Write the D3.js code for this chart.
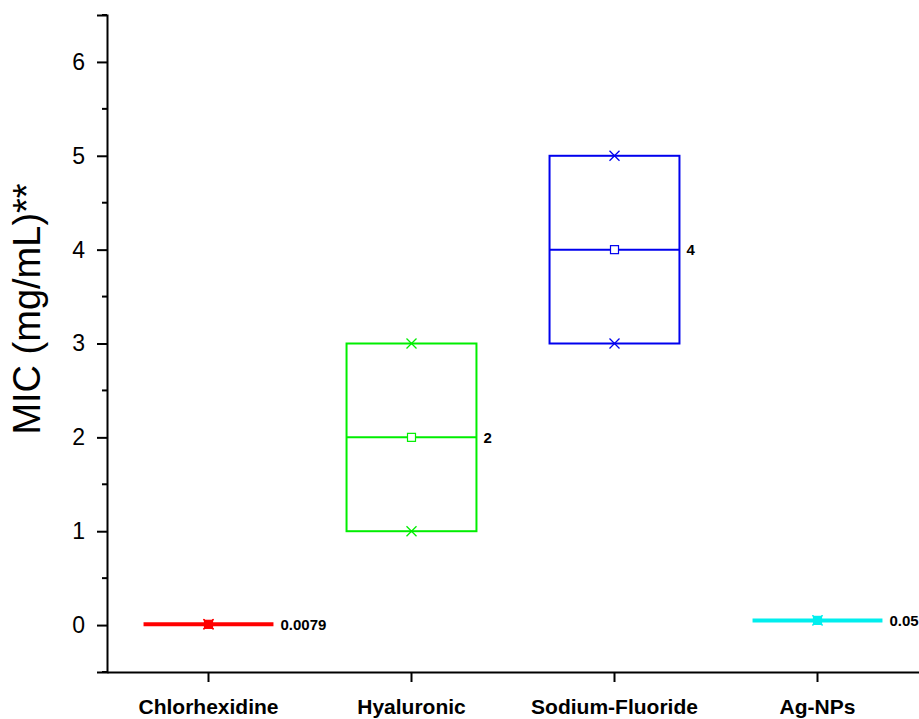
<!DOCTYPE html>
<html>
<head>
<meta charset="utf-8">
<script src="https://cdn.jsdelivr.net/npm/d3@7/dist/d3.min.js"></script>
<style>
body{margin:0;background:#fff;}
svg{display:block;font-family:"Liberation Sans",Arial,sans-serif;}
</style>
</head>
<body>
<svg id="chart" width="919" height="719"></svg>
<script>
const categories = ["Chlorhexidine", "Hyaluronic", "Sodium-Fluoride", "Ag-NPs"];
const minValues = [0.0079, 1, 3, 0.05];
const boxLow = [0.0079, 1, 3, 0.05];
const medianValues = [0.0079, 2, 4, 0.05];
const boxHigh = [0.0079, 3, 5, 0.05];
const maxValues = [0.0079, 3, 5, 0.05];
const valueLabels = ["0.0079", "2", "4", "0.05"];
const colors = ["#ff0000", "#00ee00", "#0000ee", "#00eeee"];
const yTicks = [0, 1, 2, 3, 4, 5, 6];
const yTitle = "MIC (mg/mL)**";

const svg = d3.select("#chart");
const pLeft = 107, pRight = 919, pTop = 15, pBottom = 672;

const x = d3.scaleBand().domain(categories).range([pLeft, pRight]).padding(0);
const y = d3.scaleLinear().domain([-0.5, 6.5]).range([pBottom, pTop]);

const boxW = x.bandwidth() * 0.64;

// axes
const yAxis = d3.axisLeft(y).tickValues(yTicks).tickSize(10).tickPadding(12).tickFormat(d3.format("d"));
const gy = svg.append("g").attr("transform", `translate(${pLeft},0)`).call(yAxis);
gy.select(".domain").attr("stroke", "#000").attr("stroke-width", 2);
gy.selectAll(".tick line").attr("stroke-width", 2);
gy.selectAll(".tick text").attr("font-size", 23).attr("fill", "#000").attr("font-family", "Liberation Sans, Arial, sans-serif");

const minor = d3.range(-0.5, 6.6, 1);
svg.append("g").selectAll("line").data(minor).join("line")
  .attr("x1", pLeft - 5).attr("x2", pLeft).attr("y1", d => y(d)).attr("y2", d => y(d))
  .attr("stroke", "#000").attr("stroke-width", 2);

const xAxis = d3.axisBottom(x).tickSize(10).tickPadding(17).tickSizeOuter(0);
const gx = svg.append("g").attr("transform", `translate(0,${pBottom})`).call(xAxis);
gx.select(".domain").attr("stroke", "#000").attr("stroke-width", 2);
gx.selectAll(".tick line").attr("stroke-width", 2);
gx.selectAll(".tick text").attr("font-size", 21).attr("font-weight", "bold").attr("fill", "#000")
  .attr("font-family", "Liberation Sans, Arial, sans-serif");

// y title
svg.append("text")
  .attr("transform", `translate(40,309) rotate(-90)`)
  .attr("text-anchor", "middle")
  .attr("font-size", 38)
  .attr("fill", "#000")
  .text(yTitle);

// boxes
const data = categories.map((c, i) => ({
  c, i, min: minValues[i], lo: boxLow[i], med: medianValues[i], hi: boxHigh[i], max: maxValues[i],
  label: valueLabels[i], color: colors[i]
}));

const g = svg.append("g");
data.forEach(d => {
  const cx = x(d.c) + x.bandwidth() / 2;
  const x0 = cx - boxW / 2, x1 = cx + boxW / 2;
  const yHi = y(d.hi), yLo = y(d.lo);
  const flat = Math.abs(yLo - yHi) < 2;
  const sw = flat ? 4 : 2;
  g.append("rect").attr("x", x0).attr("y", yHi).attr("width", boxW).attr("height", Math.max(0, yLo - yHi))
    .attr("fill", "none").attr("stroke", d.color).attr("stroke-width", sw);
  g.append("line").attr("x1", x0).attr("x2", x1).attr("y1", y(d.med)).attr("y2", y(d.med))
    .attr("stroke", d.color).attr("stroke-width", sw);
  const s = 8;
  g.append("rect").attr("x", cx - s / 2).attr("y", y(d.med) - s / 2).attr("width", s).attr("height", s)
    .attr("fill", flat ? d.color : "#fff").attr("stroke", d.color).attr("stroke-width", 1.2);
  [d.min, d.max].forEach(v => {
    const r = 5;
    g.append("path").attr("d", `M${cx - r},${y(v) - r}L${cx + r},${y(v) + r}M${cx - r},${y(v) + r}L${cx + r},${y(v) - r}`)
      .attr("stroke", d.color).attr("stroke-width", 1.3).attr("fill", "none");
  });
  g.append("text").attr("x", x1 + 7).attr("y", y(d.med)).attr("dy", "0.36em")
    .attr("font-size", 15).attr("font-weight", "bold").attr("fill", "#000").text(d.label);
});
</script>
</body>
</html>
